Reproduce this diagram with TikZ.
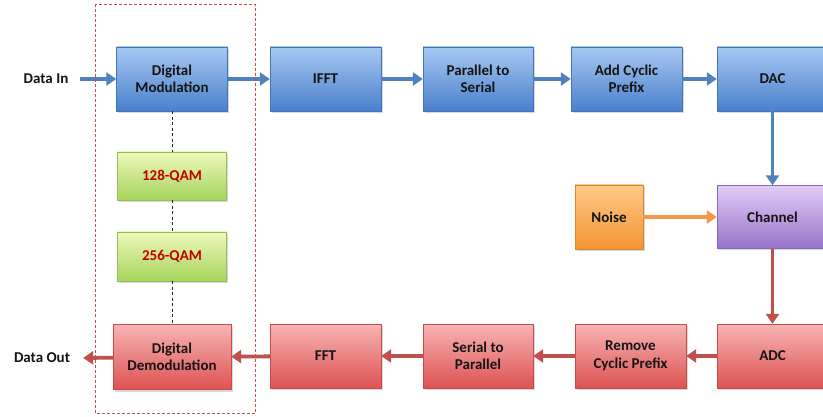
\documentclass[tikz,border=0pt]{standalone}
\usepackage{fontspec}
\setmainfont{Carlito}
\usepackage{tikz}
\usetikzlibrary{arrows.meta,shadows}
\definecolor{txt}{HTML}{141414}
\definecolor{qamtxt}{HTML}{C00000}
\definecolor{blueT}{HTML}{A6C8F1}
\definecolor{blueB}{HTML}{4A80CC}
\definecolor{redT}{HTML}{F7B4B4}
\definecolor{redB}{HTML}{DE5252}
\definecolor{greenT}{HTML}{EEF8BC}
\definecolor{greenB}{HTML}{A6D45C}
\definecolor{orangeT}{HTML}{FFC987}
\definecolor{orangeB}{HTML}{F39434}
\definecolor{purpleT}{HTML}{E0CCF6}
\definecolor{purpleB}{HTML}{9873CA}
\definecolor{arrblue}{HTML}{4F81BD}
\definecolor{arrred}{HTML}{C0504D}
\definecolor{arrorange}{HTML}{F79646}
\tikzset{blk/.style={rectangle,minimum width=111pt,minimum height=64pt,inner sep=2pt,align=center,text=txt,font=\bfseries\fontsize{15}{17.5}\selectfont,drop shadow={opacity=.3,shadow xshift=1.5pt,shadow yshift=-2pt}},
 bluebox/.style={blk,top color=blueT,bottom color=blueB,draw=blueB!90!black,line width=.4pt},
 redbox/.style={blk,top color=redT,bottom color=redB,draw=redB!90!black,line width=.4pt},
 greenbox/.style={blk,minimum width=109pt,minimum height=48pt,text=qamtxt,top color=greenT,bottom color=greenB,draw=greenB!90!black,line width=.4pt},
 orangebox/.style={blk,top color=orangeT,bottom color=orangeB,draw=orangeB!90!black,line width=.4pt},
 purplebox/.style={blk,top color=purpleT,bottom color=purpleB,draw=purpleB!90!black,line width=.4pt},
 label/.style={text=txt,font=\bfseries\fontsize{15}{17.5}\selectfont,inner sep=0pt},
 barrow/.style={-{Triangle[length=10pt,width=13pt]},line width=3.8pt,draw=arrblue},
 rarrow/.style={-{Triangle[length=10pt,width=13pt]},line width=3.8pt,draw=arrred},
 oarrow/.style={-{Triangle[length=10pt,width=13pt]},line width=3.8pt,draw=arrorange},
 frame/.style={draw=arrred,line width=.8pt,dash pattern=on 3pt off 2pt},
 link/.style={draw=black!85,line width=.9pt,dash pattern=on 3pt off 2.5pt}}

\begin{document}
\begin{tikzpicture}[x=1pt,y=-1pt]
 \useasboundingbox[fill=white] (0,0) rectangle (823,417); \clip (0,0) rectangle (823,417);
 % transmitter
 \node[label] (in) at (46,79) {Data In};
 \node[bluebox] (dm) at (172,79) {Digital\\Modulation};
 \node[bluebox] (ifft) at (325.5,79) {IFFT};
 \node[bluebox,minimum width=110pt] (ps) at (478,79) {Parallel to\\Serial};
 \node[bluebox] (acp) at (626.5,79) {Add Cyclic\\Prefix};
 \node[bluebox] (dac) at (772.5,79) {DAC};
 % channel
 \node[orangebox,minimum width=68pt] (noise) at (609,217) {Noise};
 \node[purplebox,minimum height=63pt] (chan) at (772.5,217) {Channel};
 % receiver
 \node[redbox] (adc) at (772.5,356) {ADC};
 \node[redbox] (rcp) at (630.5,356) {Remove\\Cyclic Prefix};
 \node[redbox,minimum width=110pt] (sp) at (478,356) {Serial to\\Parallel};
 \node[redbox] (fft) at (325.5,356) {FFT};
 \node[redbox,minimum width=118pt,minimum height=65pt] (ddm) at (172,357) {Digital\\Demodulation};
 \node[label] (out) at (42,358) {Data Out};
 % modulation orders
 \node[greenbox] (qam128) at (172,176) {128-QAM};
 \node[greenbox,minimum height=49pt] (qam256) at (172,256.5) {256-QAM};
 \draw[link] (dm)--(qam128); \draw[link] (qam128)--(qam256); \draw[link] (qam256)--(ddm);
 \draw[barrow] ([xshift=11pt]in.east)--(dm);
 \foreach \a/\b in {dm/ifft,ifft/ps,ps/acp,acp/dac,dac/chan} \draw[barrow] (\a)--(\b);
 \draw[oarrow] (noise)--(chan);
 \foreach \a/\b in {chan/adc,adc/rcp,rcp/sp,sp/fft,fft/ddm} \draw[rarrow] (\a)--(\b);
 \draw[rarrow] (ddm)--([xshift=13pt]out.east);
 \draw[frame] (95,4.5) rectangle (255,413);
\end{tikzpicture}
\end{document}
